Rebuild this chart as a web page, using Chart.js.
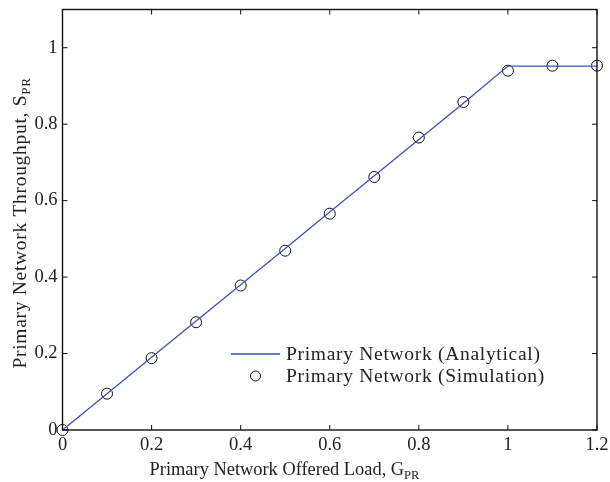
<!DOCTYPE html>
<html>
<head>
<meta charset="utf-8">
<script src="https://cdn.jsdelivr.net/npm/chart.js@4.4.1/dist/chart.umd.min.js"></script>
<style>
  html, body { margin: 0; padding: 0; background: #fff; }
  #wrap { width: 610px; height: 482px; }
</style>
</head>
<body>
<div id="wrap"><canvas id="c" width="610" height="482"></canvas></div>
<script>
// ---- data ----
const analyticalX = [0, 0.1, 0.2, 0.3, 0.4, 0.5, 0.6, 0.7, 0.8, 0.9, 1.0, 1.1, 1.2];
const analyticalY = [0, 0.095, 0.19, 0.285, 0.38, 0.475, 0.57, 0.665, 0.76, 0.855, 0.952, 0.952, 0.952];
const simX = [0, 0.1, 0.2, 0.3, 0.4, 0.5, 0.6, 0.7, 0.8, 0.9, 1.0, 1.1, 1.2];
const simY = [0, 0.095, 0.188, 0.282, 0.378, 0.469, 0.566, 0.662, 0.765, 0.858, 0.940, 0.953, 0.953];
const xTicks = [0, 0.2, 0.4, 0.6, 0.8, 1.0, 1.2];
const yTicks = [0, 0.2, 0.4, 0.6, 0.8, 1.0];
const seriesLabels = ['Primary Network (Analytical)', 'Primary Network (Simulation)'];
const xTitle = ['Primary Network Offered Load, G', 'PR'];
const yTitle = ['Primary Network Throughput, S', 'PR'];

const FONT = '"Liberation Serif", "DejaVu Serif", serif';
const TXT = '#222';
const LINE_COLOR = '#3455b6';
const SPACING = '0.7px';

function fmt(v) { return String(parseFloat(Number(v).toFixed(1))); }

const framePlugin = {
  id: 'frame',
  afterDatasetsDraw(chart) {
    const ctx = chart.ctx;
    const a = chart.chartArea;
    const xs = chart.scales.x, ys = chart.scales.y;
    ctx.save();
    ctx.strokeStyle = '#111';
    ctx.lineWidth = 1.4;
    ctx.strokeRect(a.left, a.top, a.right - a.left, a.bottom - a.top);
    ctx.lineWidth = 1;
    const tl = 5;
    ctx.beginPath();
    xTicks.forEach(v => {
      const px = xs.getPixelForValue(v);
      ctx.moveTo(px, a.bottom); ctx.lineTo(px, a.bottom - tl);
      ctx.moveTo(px, a.top); ctx.lineTo(px, a.top + tl);
    });
    yTicks.forEach(v => {
      const py = ys.getPixelForValue(v);
      ctx.moveTo(a.left, py); ctx.lineTo(a.left + tl, py);
      ctx.moveTo(a.right, py); ctx.lineTo(a.right - tl, py);
    });
    ctx.stroke();
    ctx.restore();
  },
  afterDraw(chart) {
    const ctx = chart.ctx;
    ctx.save();
    ctx.fillStyle = TXT;
    ctx.textBaseline = 'alphabetic';
    ctx.textAlign = 'left';
    // x title
    ctx.letterSpacing = '0px';
    const xMain = '18.4px ' + FONT, xSub = '12.5px ' + FONT;
    ctx.font = xMain;
    const w1 = ctx.measureText(xTitle[0]).width;
    ctx.font = xSub;
    const w2 = ctx.measureText(xTitle[1]).width;
    const sx = 284.5 - (w1 + w2) / 2;
    const by = 475;
    ctx.font = xMain;
    ctx.fillText(xTitle[0], sx, by);
    ctx.font = xSub;
    ctx.fillText(xTitle[1], sx + w1, by + 4);
    // y title
    ctx.letterSpacing = SPACING;
    const yMain = '19.5px ' + FONT, ySub = '13px ' + FONT;
    ctx.translate(26, 223);
    ctx.rotate(-Math.PI / 2);
    ctx.font = yMain;
    const h1 = ctx.measureText(yTitle[0]).width;
    ctx.font = ySub;
    const h2 = ctx.measureText(yTitle[1]).width;
    const s0 = -(h1 + h2) / 2;
    ctx.font = yMain;
    ctx.fillText(yTitle[0], s0, 0);
    ctx.font = ySub;
    ctx.fillText(yTitle[1], s0 + h1, 4);
    ctx.restore();

    // legend
    ctx.save();
    const lx = 231, ly1 = 354, ly2 = 376, tx = 286;
    ctx.strokeStyle = LINE_COLOR; ctx.lineWidth = 1.3;
    ctx.beginPath(); ctx.moveTo(lx, ly1); ctx.lineTo(lx + 49, ly1); ctx.stroke();
    ctx.strokeStyle = '#111'; ctx.lineWidth = 1;
    ctx.beginPath(); ctx.arc(lx + 24.5, ly2, 5, 0, Math.PI * 2); ctx.stroke();
    ctx.fillStyle = TXT;
    ctx.font = '19.5px ' + FONT;
    ctx.letterSpacing = SPACING;
    ctx.textAlign = 'left'; ctx.textBaseline = 'alphabetic';
    ctx.fillText(seriesLabels[0], tx, 360);
    ctx.fillText(seriesLabels[1], tx, 381.5);
    ctx.restore();
  }
};

new Chart(document.getElementById('c'), {
  type: 'scatter',
  data: {
    datasets: [
      {
        label: seriesLabels[0],
        type: 'line',
        data: analyticalX.map((x, i) => ({ x, y: analyticalY[i] })),
        borderColor: LINE_COLOR,
        borderWidth: 1.3,
        pointRadius: 0,
        tension: 0,
        fill: false,
        clip: false
      },
      {
        label: seriesLabels[1],
        data: simX.map((x, i) => ({ x, y: simY[i] })),
        showLine: false,
        pointStyle: 'circle',
        pointRadius: 5.5,
        pointBorderWidth: 1,
        borderColor: '#111',
        backgroundColor: 'rgba(0,0,0,0)',
        clip: false
      }
    ]
  },
  options: {
    responsive: false,
    animation: false,
    devicePixelRatio: 1,
    layout: { padding: { top: 9.5, right: 13, left: 0, bottom: 0 } },
    plugins: { legend: { display: false }, tooltip: { enabled: false } },
    scales: {
      x: {
        type: 'linear', min: 0, max: 1.2,
        grid: { display: false, drawTicks: false },
        border: { display: false },
        afterBuildTicks: s => { s.ticks = xTicks.map(v => ({ value: v })); },
        afterFit: s => { s.height = 52; s.paddingLeft = 0; s.paddingRight = 0; },
        ticks: {
          padding: 4, maxRotation: 0, autoSkip: false,
          color: TXT, font: { family: FONT, size: 18.5 },
          callback: v => fmt(v)
        }
      },
      y: {
        type: 'linear', min: 0, max: 1.1,
        grid: { display: false, drawTicks: false },
        border: { display: false },
        afterBuildTicks: s => { s.ticks = yTicks.map(v => ({ value: v })); },
        afterFit: s => { s.width = 62.5; s.paddingTop = 0; s.paddingBottom = 0; },
        ticks: {
          padding: 5, autoSkip: false,
          color: TXT, font: { family: FONT, size: 18.5 },
          callback: v => fmt(v)
        }
      }
    }
  },
  plugins: [framePlugin]
});
</script>
</body>
</html>
